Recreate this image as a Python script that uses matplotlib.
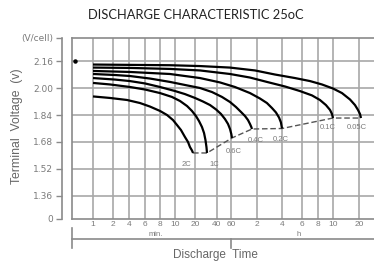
import matplotlib

matplotlib.use("Agg")
import matplotlib.pyplot as plt
import matplotlib.transforms as mtransforms
import numpy as np

# time axis: grid ticks in minutes and where the printed sheet puts them (it is not a true log scale)
TICK_MINUTES = [1, 2, 4, 6, 8, 10, 20, 40, 60, 120, 240, 360, 480, 600, 1200]
TICK_LABELS = ["1", "2", "4", "6", "8", "10", "20", "40", "60", "2", "4", "6", "8", "10", "20"]
TICK_SPOTS = [93, 113, 129, 145, 160, 175, 195, 217, 231, 257, 282, 302, 318, 333, 359]
X_RANGE = (0.5, 1800)
SPOT_RANGE = (72, 374)

# voltage axis (V/cell); the bottom tick is printed as "0", the top one as "(V/cell)"
VOLT_TICKS = [1.36, 1.52, 1.68, 1.84, 2.00, 2.16]
Y_RANGE = (1.2237, 2.2963)
Y_LABELS = ["0", "1.36", "1.52", "1.68", "1.84", "2.00", "2.16", "(V/cell)"]

RATES = ["2C", "1C", "0.6C", "0.4C", "0.2C", "0.1C", "0.05C"]

C2_T = [1, 1.8, 3.67, 5.28, 6.6, 8, 8.88, 9.71, 10.7, 12.3, 14.1, 15.7, 16.8, 18.0, 18.7]
C2_V = [1.950, 1.941, 1.929, 1.911, 1.890, 1.864, 1.840, 1.810, 1.781, 1.751, 1.710, 1.680, 1.650, 1.630, 1.615]

C1_T = [1, 1.8, 4.1, 6, 8, 9.56, 11.9, 15.2, 18.0, 20.6, 22.7, 24.9, 26.6, 27.8, 28.7, 29.2]
C1_V = [2.030, 2.021, 2.006, 1.991, 1.970, 1.947, 1.923, 1.893, 1.864, 1.834, 1.804, 1.769, 1.733, 1.692, 1.650, 1.615]

C06_T = [1, 2.18, 4.1, 6, 8, 10, 14.1, 20, 25.7, 32.1, 38.8, 44.9, 50.4, 55.0, 58.3, 60.5, 61.6]
C06_V = [2.059, 2.050, 2.041, 2.027, 2.006, 1.982, 1.964, 1.941, 1.920, 1.899, 1.873, 1.846, 1.816, 1.787,
         1.757, 1.727, 1.704]

C04_T = [1, 2.18, 4.1, 6.6, 9.28, 14.1, 23.4, 34.2, 46.2, 58.3, 68.6, 78.3, 87.1, 94.4, 99.5, 103.1, 105]
C04_V = [2.083, 2.077, 2.071, 2.056, 2.036, 2.018, 2.000, 1.976, 1.947, 1.917, 1.887, 1.858, 1.834, 1.810,
         1.787, 1.769, 1.757]

C02_T = [1, 4.1, 9.28, 23.4, 43.6, 66.6, 99.5, 130, 158, 182, 203, 221, 233, 240]
C02_V = [2.101, 2.095, 2.083, 2.059, 2.033, 2.006, 1.970, 1.938, 1.911, 1.881, 1.855, 1.825, 1.796, 1.760]

C01_T = [1, 4.1, 9.28, 23.4, 58.3, 99.5, 158, 255, 345, 431, 494, 540, 574, 591, 600]
C01_V = [2.121, 2.119, 2.113, 2.104, 2.083, 2.062, 2.036, 2.009, 1.982, 1.956, 1.929, 1.899, 1.870, 1.846,
         1.822]

C005_T = [1, 4.1, 9.28, 23.4, 58.3, 113.7, 197, 312, 416, 509, 600, 762, 944, 1078, 1168, 1233, 1266]
C005_V = [2.139, 2.137, 2.135, 2.130, 2.121, 2.104, 2.080, 2.059, 2.041, 2.021, 1.997, 1.970, 1.932, 1.899,
          1.870, 1.846, 1.822]

CURVES = [
    (C2_T, C2_V),
    (C1_T, C1_V),
    (C06_T, C06_V),
    (C04_T, C04_V),
    (C02_T, C02_V),
    (C01_T, C01_V),
    (C005_T, C005_V),
]

LABEL_OFFSETS = [(-5, -8), (5, -8), (1, -10), (3, -8), (-1, -8), (-4, -7), (-3, -7)]

GRID = "#a8a8a8"
FRAME = "#8a8a8a"
TEXT = "#7a7a7a"

LOG_KNOTS = np.log10([X_RANGE[0]] + TICK_MINUTES + [X_RANGE[1]])
SPOT_KNOTS = np.array([SPOT_RANGE[0]] + TICK_SPOTS + [SPOT_RANGE[1]], dtype=float)


def _fwd(t):
    t = np.clip(np.asarray(t, dtype=float), 1e-6, None)
    return np.interp(np.log10(t), LOG_KNOTS, SPOT_KNOTS)


def _inv(p):
    return 10 ** np.interp(np.asarray(p, dtype=float), SPOT_KNOTS, LOG_KNOTS)


def main() -> None:
    fig = plt.figure(figsize=(3.74, 2.61), dpi=100)
    ax = fig.add_axes([72 / 374, 42 / 261, 302 / 374, 181 / 261])
    ax.set_xscale("function", functions=(_fwd, _inv))
    ax.set_xlim(*X_RANGE)
    ax.set_ylim(*Y_RANGE)

    for t in TICK_MINUTES:
        ax.axvline(t, color=GRID, lw=1.2, zorder=1)
    for v in VOLT_TICKS:
        ax.axhline(v, color=GRID, lw=1.2, zorder=1)

    for t, v in CURVES:
        ax.plot(t, v, color="black", lw=1.6, solid_capstyle="butt", solid_joinstyle="round", zorder=3)

    ends_t = [t[-1] for t, _ in CURVES]
    ends_v = [v[-1] for _, v in CURVES]
    ax.plot(ends_t, ends_v, color="#555555", lw=1.0, dashes=(4, 2), zorder=2)

    for rate, (t, v), off in zip(RATES, CURVES, LABEL_OFFSETS):
        ax.annotate(rate, (t[-1], v[-1]), xytext=off, textcoords="offset points",
                    ha="center", va="center", fontsize=5.5, color=TEXT,
                    family="Liberation Sans", zorder=4)

    ax.plot([0.55], [2.16], marker="o", ms=2.2, color="black", clip_on=False, zorder=4)

    ax.set_xticks(TICK_MINUTES)
    ax.set_xticklabels(TICK_LABELS)
    ax.xaxis.set_minor_locator(matplotlib.ticker.NullLocator())
    ax.tick_params(axis="x", length=0, pad=1.5, labelsize=6, labelcolor=TEXT)

    ax.set_yticks([Y_RANGE[0]] + VOLT_TICKS + [Y_RANGE[1]])
    ax.set_yticklabels(Y_LABELS)
    ax.yaxis.set_minor_locator(matplotlib.ticker.NullLocator())
    ax.tick_params(axis="y", length=4.5, width=1.0, color=FRAME, pad=2, labelsize=6.5, labelcolor=TEXT)
    for lab in ax.get_xticklabels() + ax.get_yticklabels():
        lab.set_family("Liberation Sans")

    ax.spines["left"].set_position(("outward", 7.2))
    ax.spines["right"].set_visible(False)
    for side in ("left", "top", "bottom"):
        ax.spines[side].set_color(FRAME)
        ax.spines[side].set_linewidth(1.2)
    ax.plot([0, 0], [0, 1], transform=ax.transAxes, color=FRAME, lw=1.2, clip_on=False, zorder=5)

    # bracket under the time axis: minutes | hours
    trans = mtransforms.blended_transform_factory(ax.transData, ax.transAxes)
    ax.plot([X_RANGE[0], X_RANGE[1]], [-0.108, -0.108], transform=trans, color=FRAME, lw=1.2, clip_on=False)
    ax.plot([X_RANGE[0], X_RANGE[0]], [-0.05, -0.16], transform=trans, color=FRAME, lw=1.2, clip_on=False)
    ax.plot([60, 60], [-0.108, -0.16], transform=trans, color=FRAME, lw=1.2, clip_on=False)
    ax.text(7.3, -0.088, "min.", transform=trans, ha="center", va="center",
            fontsize=5.5, color=TEXT, family="Liberation Sans")
    ax.text(333, -0.088, "h", transform=trans, ha="center", va="center",
            fontsize=5.5, color=TEXT, family="Liberation Sans")

    fig.text(215 / 374, 1 - 255 / 261, "Discharge  Time", ha="center", va="center",
             fontsize=8.5, color="#666666", family="Liberation Sans")
    fig.text(17 / 374, 1 - 126 / 261, "Terminal  Voltage  (v)", rotation=90, ha="center", va="center",
             fontsize=8.8, color="#666666", family="Liberation Sans")
    fig.text(196 / 374, 1 - 15 / 261, "DISCHARGE CHARACTERISTIC 25oC", ha="center", va="center",
             fontsize=9.3, color="#222222", family="Lato")

    fig.savefig("out.png", dpi=100)
    plt.close(fig)


if __name__ == "__main__":
    main()
